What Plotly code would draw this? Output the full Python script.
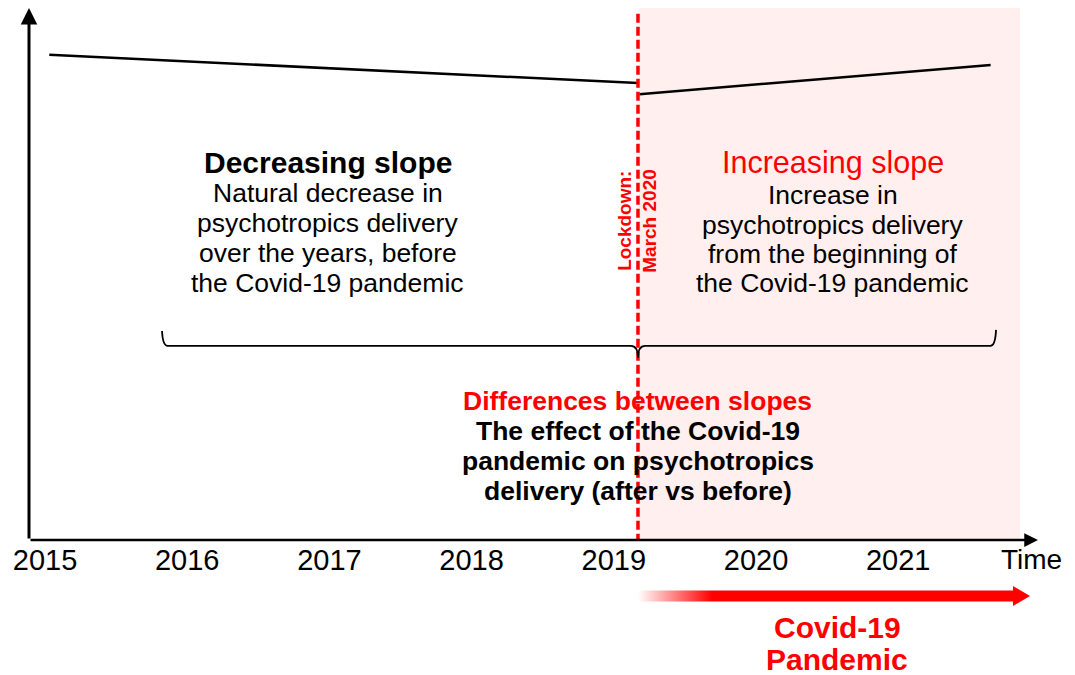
import plotly.graph_objects as go

# axis tick labels
years = [2015, 2016, 2017, 2018, 2019, 2020, 2021]
year_labels = [str(y) for y in years]

# schematic trend, before and after the lockdown
pre_x = [2015.03, 2019.17]
pre_y = [91.2, 85.9]
post_x = [2019.18, 2021.65]
post_y = [83.8, 89.3]

lockdown_x = 2019.17
shade_end = 2021.857
x_lo, x_hi = 2014.8875, 2021.983

FONT = "Arial, Liberation Sans, sans-serif"
RED = "#FF0000"

left_lines = ["Natural decrease in", "psychotropics delivery",
              "over the years, before", "the Covid-19 pandemic"]
right_lines = ["Increase in", "psychotropics delivery",
               "from the beginning of", "the Covid-19 pandemic"]
bottom_lines = ["The effect of the Covid-19", "pandemic on psychotropics",
                "delivery (after vs before)"]

fig = go.Figure()

fig.add_trace(go.Scatter(x=pre_x, y=pre_y, mode="lines",
                         line=dict(color="black", width=2.5), hoverinfo="skip"))
fig.add_trace(go.Scatter(x=post_x, y=post_y, mode="lines",
                         line=dict(color="black", width=2.5), hoverinfo="skip"))

# pandemic arrow with a gradient tail (lower panel, pixel-like units)
shaft_end = 2021.807
tip = 2021.927
arrow_x = [lockdown_x, shaft_end, shaft_end, tip, shaft_end, shaft_end, lockdown_x, lockdown_x]
arrow_y = [73.5, 73.5, 69, 79, 89, 84.5, 84.5, 73.5]
fig.add_trace(go.Scatter(
    x=arrow_x, y=arrow_y, xaxis="x2", yaxis="y2", mode="lines",
    fill="toself", line=dict(width=0, color=RED), hoverinfo="skip",
    fillgradient=dict(type="horizontal",
                      colorscale=[[0, "#FFFFFF"], [0.19, RED], [1, RED]]),
))

shapes = [
    dict(type="rect", xref="x", yref="y", x0=lockdown_x + 0.01, x1=shade_end,
         y0=0, y1=100.3, fillcolor="#FFEFEF", line_width=0, layer="below"),
    dict(type="line", xref="x", yref="y", x0=lockdown_x, x1=lockdown_x,
         y0=-0.5, y1=99.6, line=dict(color=RED, width=3.5, dash="9px,4px")),
]

# brace under the two slope descriptions
bl, br, by = 2015.823, 2021.688, 36.5
brace = (f"M {bl},39.3 Q {bl + 0.005},{by} {bl + 0.04},{by} "
         f"L {lockdown_x - 0.05},{by} Q {lockdown_x},{by} {lockdown_x},34.2 "
         f"Q {lockdown_x},{by} {lockdown_x + 0.05},{by} "
         f"L {br - 0.04},{by} Q {br - 0.005},{by} {br},39.5")
shapes.append(dict(type="path", xref="x", yref="y", path=brace,
                   line=dict(color="black", width=1.8)))

ann = []


def text(x, y, s, size, color="black", bold=False, xref="x", yref="y", angle=0):
    if bold:
        s = f"<b>{s}</b>"
    ann.append(dict(x=x, y=y, xref=xref, yref=yref, text=s, showarrow=False,
                    textangle=angle, font=dict(family=FONT, size=size, color=color),
                    xanchor="center", yanchor="middle"))


# axes with arrowheads
ann.append(dict(x=x_hi, y=0, ax=x_lo, ay=0, xref="x", yref="y", axref="x", ayref="y",
                text="", showarrow=True, arrowhead=2, arrowsize=1.1, arrowwidth=2.5,
                arrowcolor="black", standoff=0))
ann.append(dict(x=x_lo, y=100, ax=x_lo, ay=0, xref="x", yref="y", axref="x", ayref="y",
                text="", showarrow=True, arrowhead=2, arrowsize=1.1, arrowwidth=3,
                arrowcolor="black", standoff=0))

text(2016.99, 71.05, "Decreasing slope", 30, bold=True)
for i, s in enumerate(left_lines):
    text(2016.99, 65.2 - i * 5.6, s, 26.5)
text(2020.54, 71.05, "Increasing slope", 30.5, color=RED)
for i, s in enumerate(right_lines):
    text(2020.54, 64.8 - i * 5.5, s, 26.5)

text(2019.079, 60, "Lockdown:", 19, color=RED, bold=True, angle=-90)
text(2019.254, 60, "March 2020", 19, color=RED, bold=True, angle=-90)

text(lockdown_x, 26.1, "Differences between slopes", 26.5, color=RED, bold=True)
for i, s in enumerate(bottom_lines):
    text(lockdown_x, 20.5 - i * 5.65, s, 26.5, bold=True)

text(2021.94, 115, "Time", 28, yref="y2")
text(2020.57, 47, "Covid-19", 30, color=RED, bold=True, xref="x2", yref="y2")
text(2020.57, 15, "Pandemic", 30, color=RED, bold=True, xref="x2", yref="y2")

# the page body adds an 8px offset, so margins are shifted to compensate
fig.update_layout(
    width=1075, height=675,
    margin=dict(l=21, r=45, t=0, b=8),
    plot_bgcolor="white", paper_bgcolor="white",
    showlegend=False,
    font=dict(family=FONT),
    shapes=shapes, annotations=ann,
    xaxis=dict(range=[x_lo, x_hi], tickvals=years, ticktext=year_labels,
               tickfont=dict(size=29, color="black", family=FONT),
               showgrid=False, zeroline=False, showline=False, ticks="",
               anchor="y"),
    yaxis=dict(range=[0, 100], domain=[0.2024, 1], visible=False),
    xaxis2=dict(matches="x", anchor="y2", visible=False),
    yaxis2=dict(range=[0, 135], domain=[0, 0.2024], visible=False),
)

fig.write_html("out.html")
